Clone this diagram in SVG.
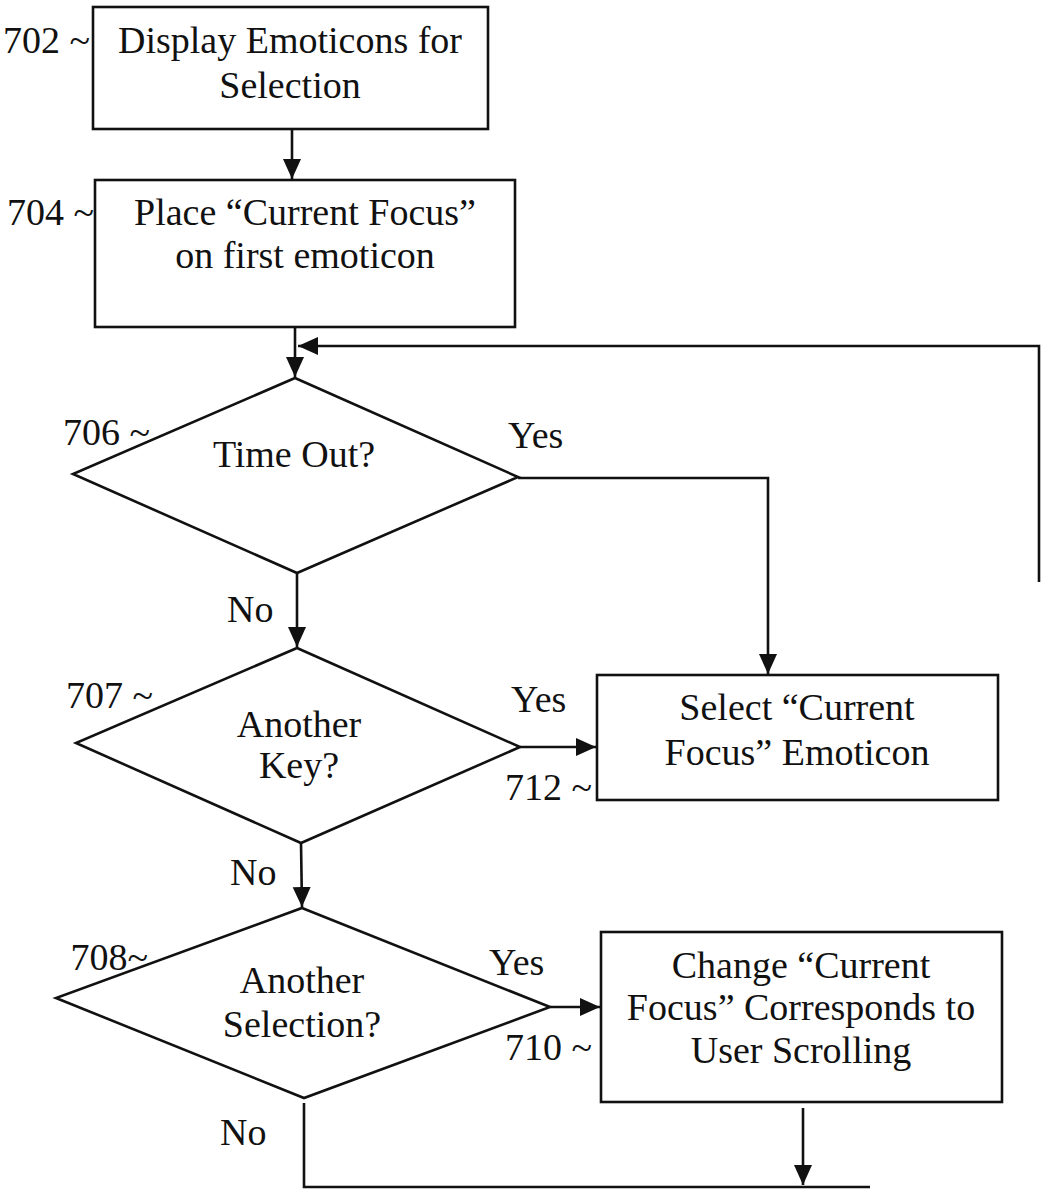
<svg xmlns="http://www.w3.org/2000/svg" width="1042" height="1189" viewBox="0 0 1042 1189">
<style>
text{font-family:"Liberation Serif","Times New Roman",serif;font-size:38px;fill:#111}
.c{text-anchor:middle}
.e{text-anchor:end}
.shape{fill:#fff;stroke:#111;stroke-width:2.6}
.line{fill:none;stroke:#111;stroke-width:2.6}
</style>
<defs>
<marker id="ah" markerUnits="userSpaceOnUse" markerWidth="22" markerHeight="20" refX="20" refY="9" orient="auto">
<path d="M0,0 L20,9 L0,18 z" fill="#111"/>
</marker>
</defs>
<rect width="1042" height="1189" fill="#fff"/>
<g id="connectors">
<path class="line" d="M292,129 L292,179" marker-end="url(#ah)"/>
<path class="line" d="M295,327 L295,377" marker-end="url(#ah)"/>
<path class="line" d="M1039,582 L1039,346 L298,346" marker-end="url(#ah)"/>
<path class="line" d="M518,478 L768,478 L768,674" marker-end="url(#ah)"/>
<path class="line" d="M297,573 L297,647" marker-end="url(#ah)"/>
<path class="line" d="M520,747 L596,747" marker-end="url(#ah)"/>
<path class="line" d="M301,843 L302,907" marker-end="url(#ah)"/>
<path class="line" d="M550,1007 L600,1007" marker-end="url(#ah)"/>
<path class="line" d="M304,1103 L304,1187 L870,1187"/>
<path class="line" d="M803,1108 L803,1185" marker-end="url(#ah)"/>
<text x="508" y="448">Yes</text>
<text x="227" y="622">No</text>
<text x="511" y="712">Yes</text>
<text x="230" y="885">No</text>
<text x="489" y="975">Yes</text>
<text x="220" y="1145">No</text>
</g>
<g id="n702">
<rect class="shape" x="93" y="7" width="395" height="122"/>
<text class="c" x="290" y="53">Display Emoticons for</text>
<text class="c" x="290" y="98">Selection</text>
<text class="e" x="90" y="53">702 ~</text>
</g>
<g id="n704">
<rect class="shape" x="95" y="180" width="420" height="147"/>
<text class="c" x="305" y="225">Place “Current Focus”</text>
<text class="c" x="305" y="268">on first emoticon</text>
<text class="e" x="94" y="225">704 ~</text>
</g>
<g id="n706">
<polygon class="shape" points="295,378 518,477 297,573 73,474"/>
<text class="c" x="294" y="467">Time Out?</text>
<text class="e" x="150" y="445">706 ~</text>
</g>
<g id="n707">
<polygon class="shape" points="297,648 520,747 301,843 76,743"/>
<text class="c" x="299" y="737">Another</text>
<text class="c" x="299" y="778">Key?</text>
<text class="e" x="153" y="708">707 ~</text>
</g>
<g id="n708">
<polygon class="shape" points="302,908 550,1007 304,1098 56,998"/>
<text class="c" x="302" y="993">Another</text>
<text class="c" x="302" y="1037">Selection?</text>
<text class="e" x="148" y="970">708~</text>
</g>
<g id="n712">
<rect class="shape" x="597" y="675" width="401" height="125"/>
<text class="c" x="797" y="720">Select “Current</text>
<text class="c" x="797" y="765">Focus” Emoticon</text>
<text class="e" x="592" y="800">712 ~</text>
</g>
<g id="n710">
<rect class="shape" x="601" y="932" width="401" height="170"/>
<text class="c" x="801" y="978">Change “Current</text>
<text class="c" x="801" y="1020">Focus” Corresponds to</text>
<text class="c" x="801" y="1063">User Scrolling</text>
<text class="e" x="592" y="1060">710 ~</text>
</g>
</svg>
